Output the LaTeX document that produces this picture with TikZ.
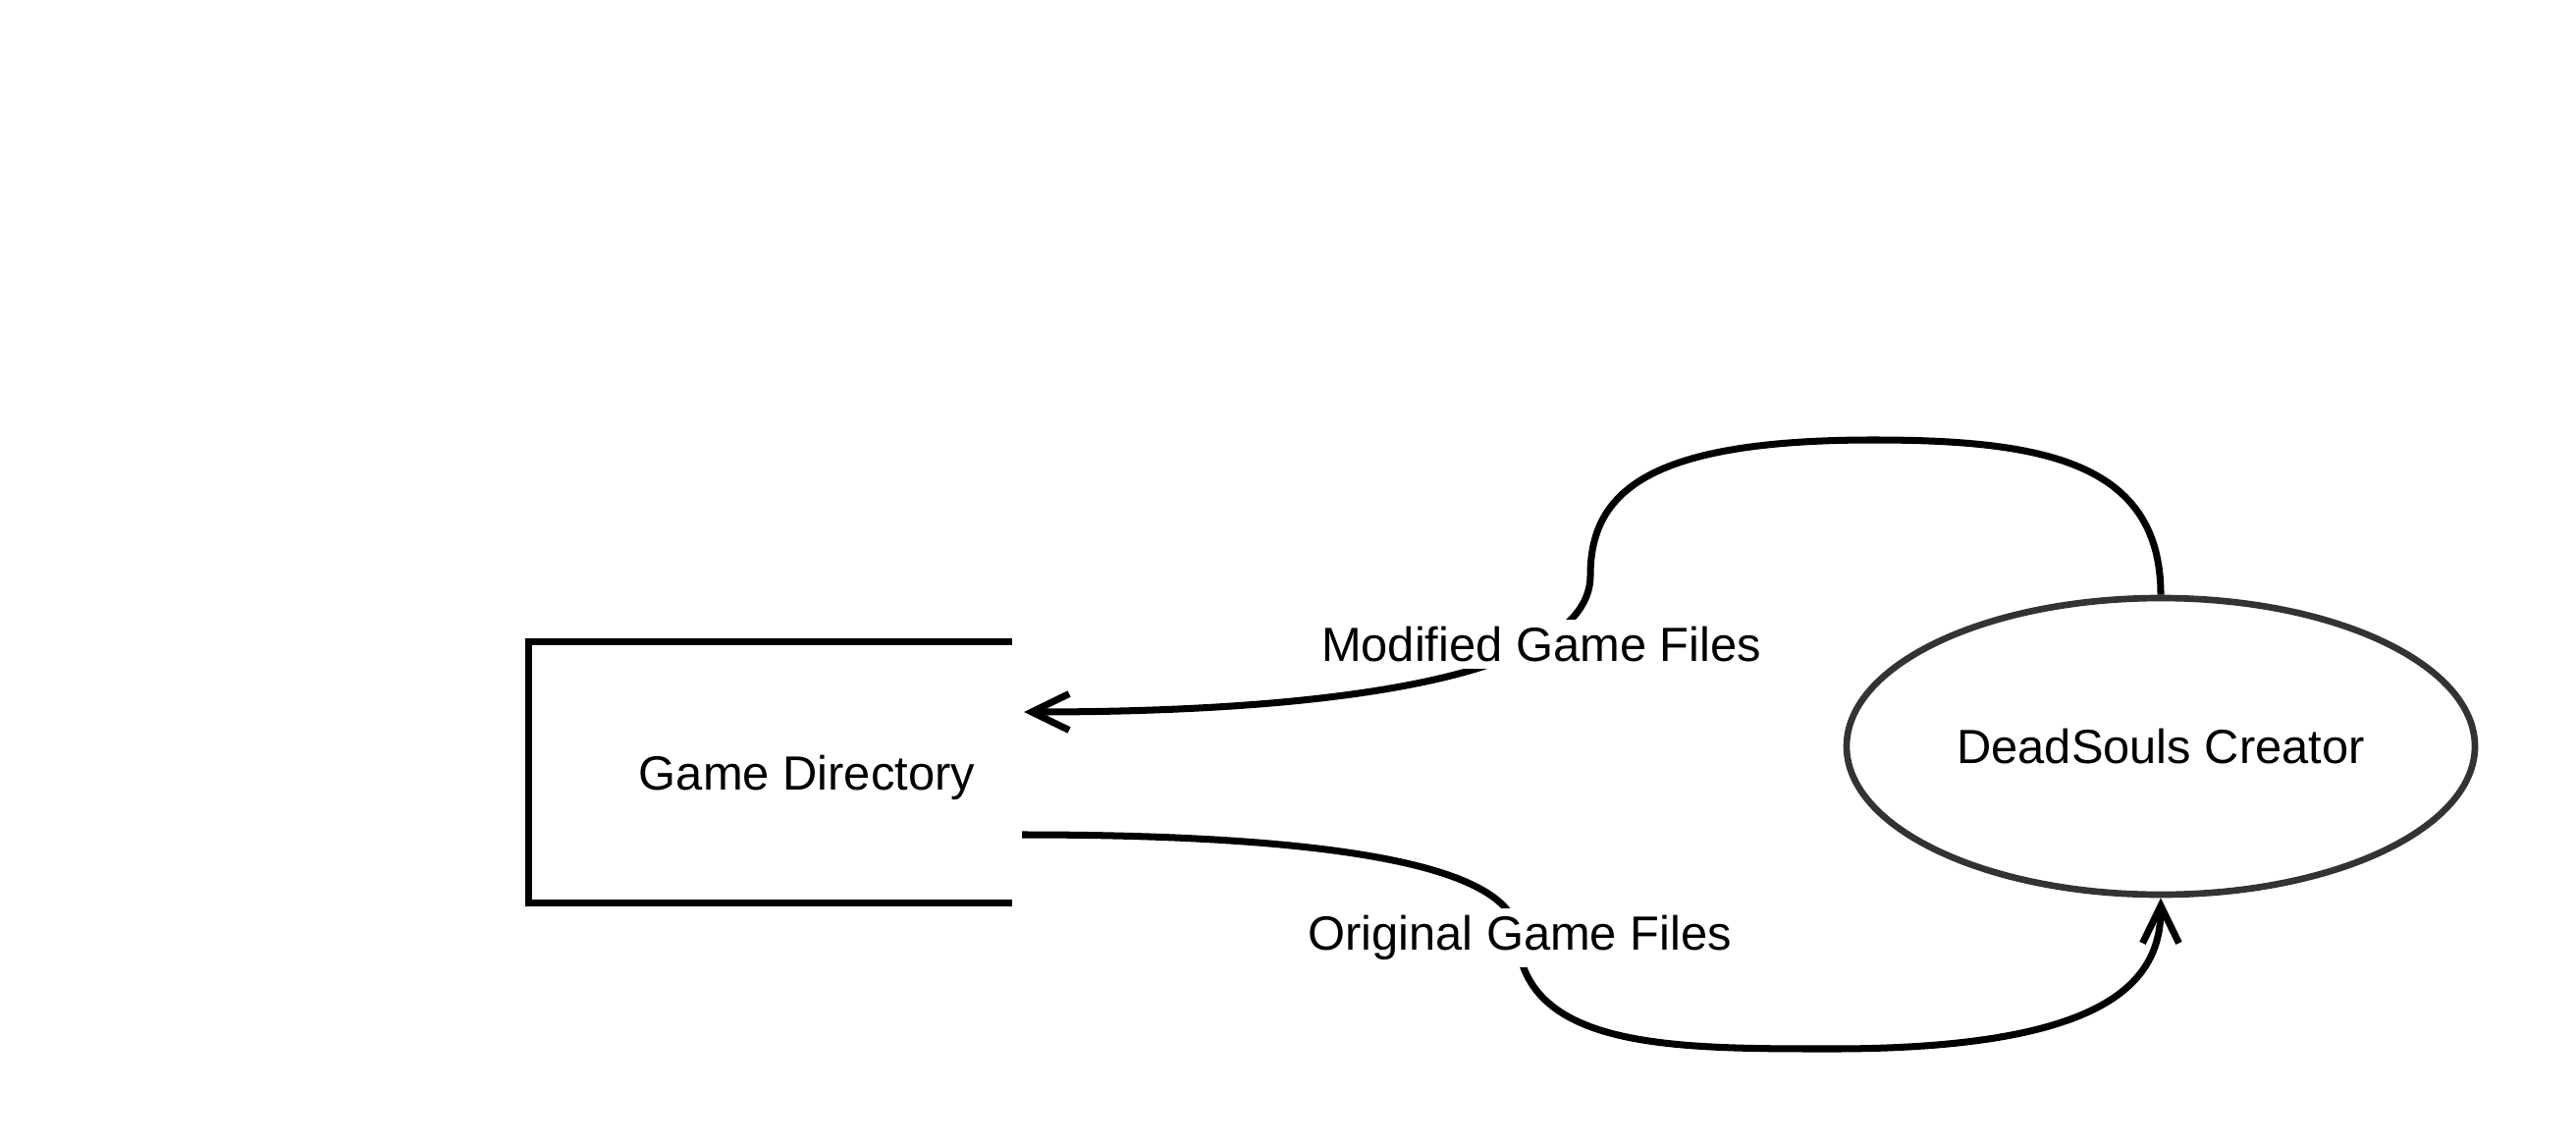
\documentclass[tikz,border=0pt]{standalone}
\usepackage{fontspec}
\setmainfont{Liberation Sans}
\usetikzlibrary{arrows.meta,shapes,positioning,calc}
\definecolor{procgray}{RGB}{51,51,51}

\begin{document}
\begin{tikzpicture}[
    node distance=1cm,
    every node/.style={font=\fontsize{13.9}{16}\selectfont},
    storebox/.style={rectangle, minimum width=4.91cm, minimum height=2.65cm, inner sep=0pt, align=center},
    storeline/.style={line width=2.1pt, black},
    process/.style={ellipse, draw=procgray, line width=1.9pt, minimum width=6.4cm, minimum height=3.02cm, inner sep=0pt, align=center},
    flow/.style={line width=2pt, -{Straight Barb[length=3.8mm, width=3.7mm, line width=2pt]}},
    flowlabel/.style={fill=white, inner sep=2pt}
]
    \useasboundingbox (0,0) rectangle (26.24,11.68);

    \node[storebox] (gamedir) at (7.845,3.815) {\hspace*{0.75cm}\raisebox{-0.05cm}[\height][\depth]{Game Directory}};
    \node[process] (creator) at (22.01,4.08) {DeadSouls Creator};
    \coordinate (modin) at (10.43,4.43);
    \coordinate (origout) at (10.41,3.18);

    \draw[storeline] (gamedir.north east) -- (gamedir.north west) -- (gamedir.south west) -- (gamedir.south east);

    \draw[flow] (creator.north) .. controls (22.01,6.98) and (20.80,7.20) .. (19.08,7.20)
        .. controls (16.80,7.20) and (16.20,6.68) .. (16.20,5.82)
        .. controls (16.20,4.88) and (14.00,4.43) .. (modin);
    \draw[flow] (origout) .. controls (14.00,3.18) and (15.40,2.78) .. (15.45,2.18)
        .. controls (15.50,1.00) and (17.00,1.00) .. (18.66,1.00)
        .. controls (21.50,1.00) and (22.01,1.70) .. (creator.south);

    \node[flowlabel] (modlbl) at (15.70,5.12) {Modified Game Files};
    \node[flowlabel] (origlbl) at (15.48,2.13) {Original Game Files};
\end{tikzpicture}
\end{document}
